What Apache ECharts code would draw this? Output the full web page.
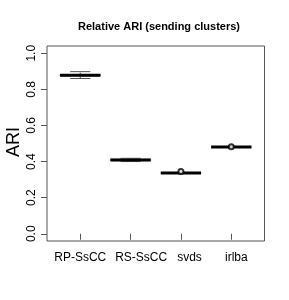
<!DOCTYPE html>
<html>
<head>
<meta charset="utf-8">
<script src="https://cdn.jsdelivr.net/npm/echarts@6/dist/echarts.min.js"></script>
<style>html,body{margin:0;padding:0;background:#fff;}#c{width:289px;height:300px;}</style>
</head>
<body>
<div id="c"></div>
<script>
// ---- data ----
var categories = ['RP-SsCC', 'RS-SsCC', 'svds', 'irlba'];
var whiskerLow  = [0.860, 0.400, 0.336, 0.481];
var boxLow      = [0.874, 0.405, 0.336, 0.481];
var medians     = [0.878, 0.409, 0.336, 0.481];
var boxHigh     = [0.882, 0.413, 0.336, 0.481];
var whiskerHigh = [0.898, 0.418, 0.336, 0.481];
var outlierCat  = [3, 4];
var outlierVal  = [0.345, 0.482];
var yTicks = [0, 0.2, 0.4, 0.6, 0.8, 1.0];
var yTickLabels = ['0.0', '0.2', '0.4', '0.6', '0.8', '1.0'];
var yTitle = 'ARI';

// ---- layout (not data) ----
var labelShift = [0, 0.21, 0.17, 0.10]; // label offset from tick, in axis units
var fontFam = '"Liberation Sans", Arial, Helvetica, sans-serif';

var boxData = categories.map(function (c, i) {
  return [i + 1, whiskerLow[i], boxLow[i], medians[i], boxHigh[i], whiskerHigh[i]];
});
var outData = outlierCat.map(function (c, i) { return [c, outlierVal[i]]; });
var tickPos = categories.map(function (c, i) { return i + 1; });
var labelPos = categories.map(function (c, i) { return i + 1 + labelShift[i]; });

var chart = echarts.init(document.getElementById('c'), null, {renderer: 'canvas'});

function renderBox(params, api) {
  var x = api.value(0);
  var half = 0.4, cap = 0.2;
  var pMin = api.coord([x, api.value(1)]);
  var pQ1 = api.coord([x, api.value(2)]);
  var pMed = api.coord([x, api.value(3)]);
  var pQ3 = api.coord([x, api.value(4)]);
  var pMax = api.coord([x, api.value(5)]);
  var left = api.coord([x - half, 0])[0];
  var right = api.coord([x + half, 0])[0];
  var cl = api.coord([x - cap, 0])[0];
  var cr = api.coord([x + cap, 0])[0];
  var thin = {stroke: '#555', lineWidth: 1, fill: null};
  return {
    type: 'group',
    children: [
      {type: 'line', shape: {x1: pMin[0], y1: pMin[1], x2: pQ1[0], y2: pQ1[1]}, style: {stroke: '#555', lineWidth: 1, lineDash: [2, 2]}},
      {type: 'line', shape: {x1: pQ3[0], y1: pQ3[1], x2: pMax[0], y2: pMax[1]}, style: {stroke: '#555', lineWidth: 1, lineDash: [2, 2]}},
      {type: 'line', shape: {x1: cl, y1: pMin[1], x2: cr, y2: pMin[1]}, style: thin},
      {type: 'line', shape: {x1: cl, y1: pMax[1], x2: cr, y2: pMax[1]}, style: thin},
      {type: 'rect', shape: {x: left, y: pQ3[1], width: right - left, height: pQ1[1] - pQ3[1]}, style: {stroke: '#777', lineWidth: 1, fill: 'rgba(0,0,0,0)'}},
      {type: 'line', shape: {x1: left, y1: pMed[1], x2: right, y2: pMed[1]}, style: {stroke: '#000', lineWidth: 3}}
    ]
  };
}

var option = {
  animation: false,
  backgroundColor: '#fff',
  title: {
    text: 'Relative ARI (sending clusters)',
    left: 154, top: 16, textAlign: 'center',
    textStyle: {fontFamily: fontFam, fontWeight: 'bold', fontSize: 11, color: '#000'}
  },
  graphic: [{
    type: 'text', x: 14, y: 142, rotation: Math.PI / 2,
    style: {text: yTitle, align: 'center', verticalAlign: 'middle', fill: '#000',
            font: '18px ' + fontFam}
  }],
  grid: {left: 47, right: 24.5, top: 46, bottom: 59, containLabel: false, outerBoundsMode: 'none',
         show: true, borderColor: '#555', borderWidth: 1, backgroundColor: 'transparent'},
  xAxis: {
    type: 'value', min: 0.34, max: 4.66,
    splitLine: {show: false},
    axisLine: {show: false},
    axisTick: {show: true, length: 6, inside: false, customValues: tickPos, lineStyle: {color: '#555'}},
    axisLabel: {
      customValues: labelPos, margin: 11,
      fontFamily: fontFam, fontSize: 12, color: '#000',
      formatter: function (v) {
        for (var i = 0; i < labelPos.length; i++) {
          if (Math.abs(labelPos[i] - v) < 1e-6) return categories[i];
        }
        return '';
      }
    }
  },
  yAxis: {
    type: 'value', min: -0.04, max: 1.04,
    splitLine: {show: false},
    axisLine: {show: false},
    axisTick: {show: true, length: 6, customValues: yTicks, lineStyle: {color: '#555'}},
    axisLabel: {
      customValues: yTicks, rotate: 90, margin: 9,
      fontFamily: fontFam, fontSize: 12, color: '#000',
      formatter: function (v) {
        for (var i = 0; i < yTicks.length; i++) {
          if (Math.abs(yTicks[i] - v) < 1e-6) return yTickLabels[i];
        }
        return '';
      }
    }
  },
  series: [
    {type: 'custom', renderItem: renderBox, data: boxData, encode: {x: 0, y: [1, 2, 3, 4, 5]}, z: 2},
    {type: 'scatter', data: outData, symbol: 'emptyCircle', symbolSize: 5,
     itemStyle: {color: '#000', borderColor: '#000', borderWidth: 1}, z: 3}
  ]
};
chart.setOption(option);
</script>
</body>
</html>
